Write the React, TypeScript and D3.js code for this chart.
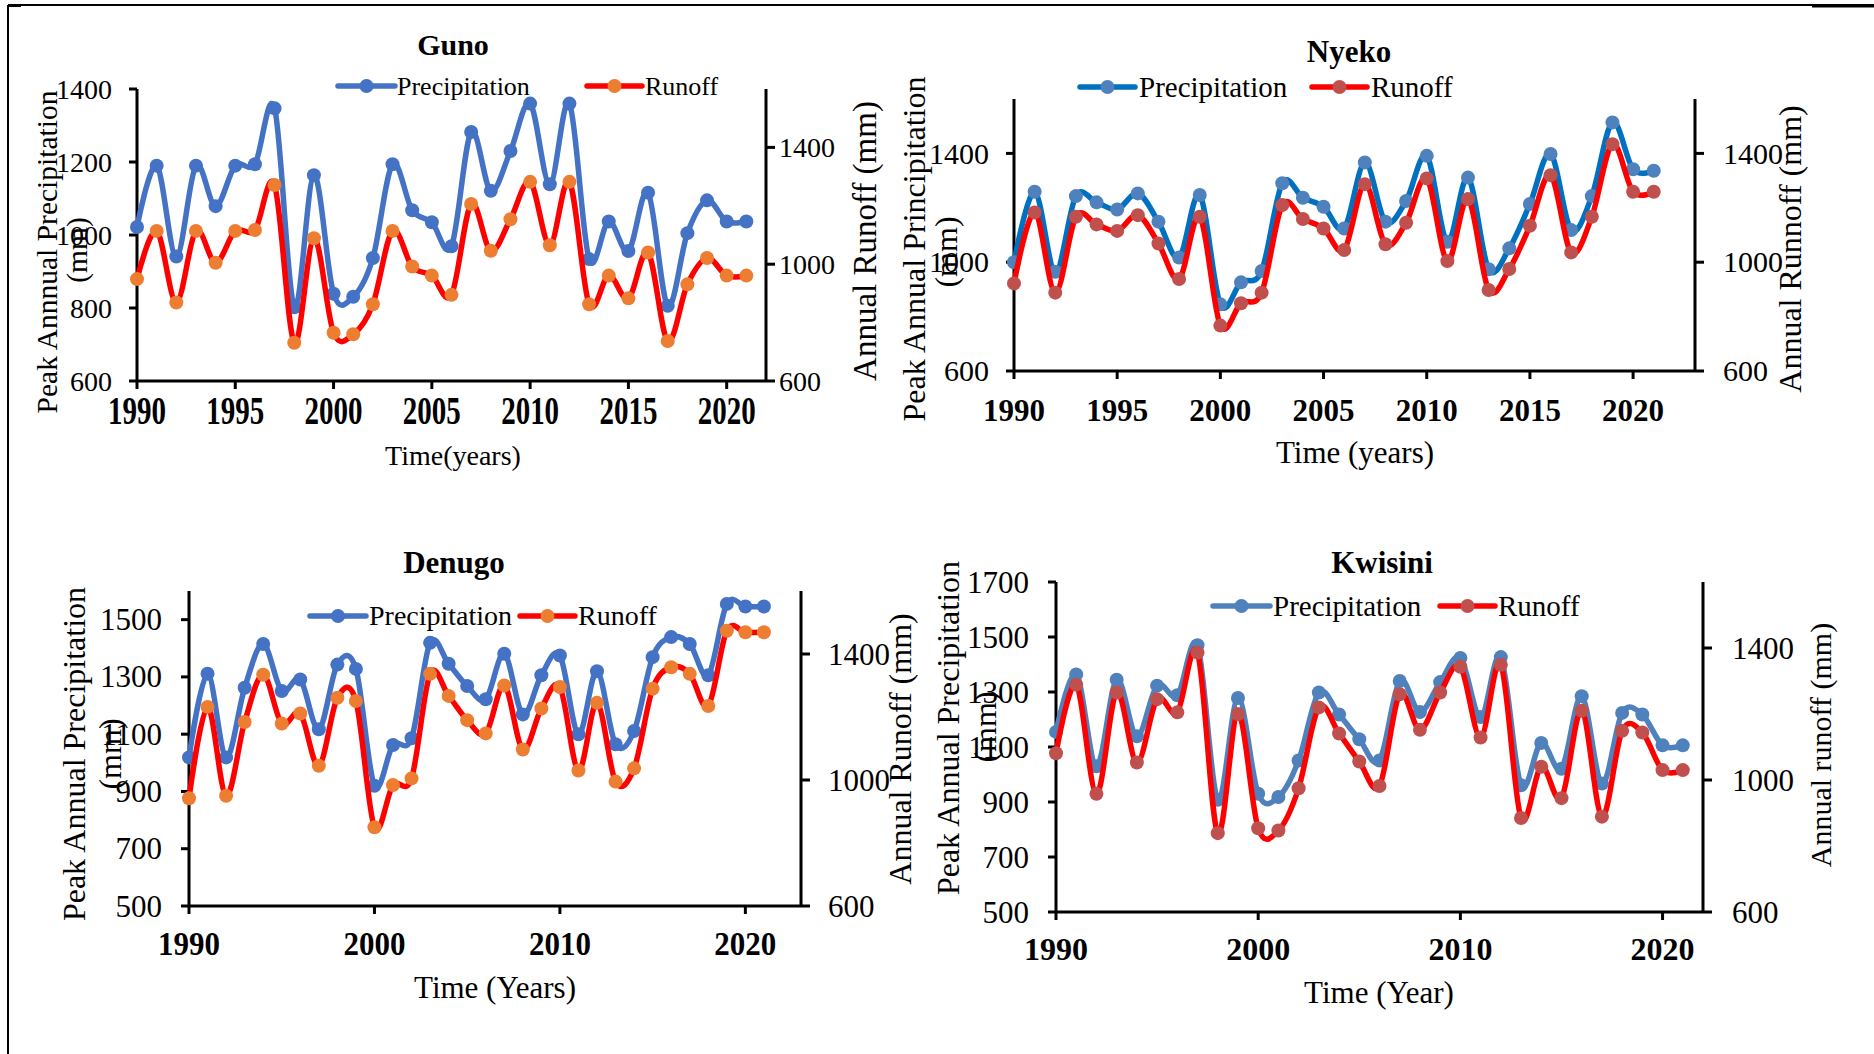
import React from 'react';
import * as d3 from 'd3';

const years = [1990, 1991, 1992, 1993, 1994, 1995, 1996, 1997, 1998, 1999, 2000, 2001, 2002, 2003, 2004, 2005, 2006, 2007, 2008, 2009, 2010, 2011, 2012, 2013, 2014, 2015, 2016, 2017, 2018, 2019, 2020, 2021];

const gunoPrecip = [1022, 1190, 941, 1190, 1079, 1190, 1194, 1347, 802, 1164, 839, 831, 937, 1194, 1068, 1035, 969, 1282, 1121, 1230, 1360, 1139, 1360, 934, 1037, 956, 1116, 806, 1005, 1095, 1037, 1037];
const gunoRunoff = [949, 1114, 869, 1114, 1005, 1114, 1117, 1271, 731, 1089, 765, 760, 863, 1114, 992, 961, 895, 1206, 1046, 1154, 1282, 1065, 1282, 863, 961, 883, 1040, 737, 931, 1021, 961, 961];

const nyekoPrecip = [1000, 1259, 965, 1243, 1220, 1194, 1253, 1149, 1017, 1247, 845, 926, 968, 1290, 1237, 1204, 1124, 1367, 1149, 1225, 1391, 1075, 1311, 974, 1051, 1214, 1398, 1118, 1243, 1514, 1342, 1336];
const nyekoRunoff = [922, 1183, 888, 1167, 1139, 1115, 1173, 1069, 938, 1167, 767, 849, 888, 1210, 1159, 1124, 1045, 1287, 1066, 1145, 1308, 1004, 1232, 898, 975, 1134, 1320, 1036, 1167, 1434, 1259, 1259];

const denugoPrecip = [1019, 1311, 1019, 1262, 1415, 1251, 1291, 1117, 1343, 1328, 920, 1062, 1086, 1419, 1346, 1268, 1222, 1381, 1169, 1306, 1375, 1100, 1320, 1065, 1111, 1369, 1439, 1415, 1306, 1555, 1546, 1546];
const denugoRunoff = [942, 1232, 950, 1184, 1334, 1179, 1211, 1045, 1261, 1251, 850, 984, 1005, 1337, 1267, 1190, 1148, 1300, 1097, 1227, 1295, 1030, 1245, 995, 1037, 1290, 1358, 1337, 1235, 1474, 1469, 1469];

const kwisiniPrecip = [1155, 1364, 1030, 1345, 1139, 1323, 1288, 1470, 908, 1278, 930, 918, 1051, 1298, 1218, 1128, 1051, 1340, 1227, 1336, 1424, 1209, 1427, 961, 1115, 1021, 1285, 967, 1224, 1218, 1106, 1106];
const kwisiniRunoff = [1081, 1289, 958, 1265, 1053, 1245, 1205, 1386, 839, 1200, 854, 847, 975, 1220, 1141, 1056, 982, 1260, 1152, 1265, 1343, 1129, 1349, 885, 1040, 945, 1210, 889, 1149, 1144, 1030, 1030];

const xTicks5 = [1990, 1995, 2000, 2005, 2010, 2015, 2020];
const xTicks10 = [1990, 2000, 2010, 2020];
const gunoLeftTicks = [600, 800, 1000, 1200, 1400];
const nyekoLeftTicks = [600, 1000, 1400];
const denugoLeftTicks = [500, 700, 900, 1100, 1300, 1500];
const kwisiniLeftTicks = [500, 700, 900, 1100, 1300, 1500, 1700];
const rightTicks = [600, 1000, 1400];

const FONT = '"Liberation Serif", "Times New Roman", serif';

type Cfg = {
  title: string; precip: number[]; runoff: number[];
  left: number; right: number; top: number; bottom: number;
  xDomain: [number, number]; xTicks: number[];
  yL: [number, number]; yLTicks: number[]; yR: [number, number]; yRTicks: number[];
  tickFont: number; leftGap: number; rightGap: number;
  yearFont: number; yearBase: number; yearScale: number;
  titleX: number; titleY: number; titleFont: number;
  legY: number; legFont: number; leg: { x1: number; x2: number; tx: number }[];
  yMain: string; yMainX: number; yMainY: number; yMmX: number; yMmY: number; yFont: number;
  xLabel: string; xLabelX: number; xLabelY: number; xLabelFont: number;
  rLabel: string; rLabelX: number; rLabelY: number; rLabelFont: number;
  pLine: string; pMark: string; rLine: string; rMark: string;
};

const panels: Cfg[] = [
  {
    title: 'Guno', precip: gunoPrecip, runoff: gunoRunoff,
    left: 137, right: 766, top: 89, bottom: 381,
    xDomain: [1990, 2022], xTicks: xTicks5,
    yL: [600, 1400], yLTicks: gunoLeftTicks, yR: [600, 1600], yRTicks: rightTicks,
    tickFont: 28, leftGap: 25, rightGap: 13,
    yearFont: 29, yearBase: 424, yearScale: 1.35,
    titleX: 453, titleY: 55, titleFont: 30,
    legY: 86, legFont: 26, leg: [{ x1: 338, x2: 395, tx: 397 }, { x1: 587, x2: 642, tx: 645 }],
    yMain: 'Peak Annnual Precipitation', yMainX: 57, yMainY: 252, yMmX: 87, yMmY: 250, yFont: 29.5,
    xLabel: 'Time(years)', xLabelX: 453, xLabelY: 465, xLabelFont: 28,
    rLabel: 'Annual Runoff (mm)', rLabelX: 876, rLabelY: 241, rLabelFont: 33,
    pLine: '#4472C4', pMark: '#4472C4', rLine: '#FF0000', rMark: '#ED7D31',
  },
  {
    title: 'Nyeko', precip: nyekoPrecip, runoff: nyekoRunoff,
    left: 1014, right: 1695, top: 99, bottom: 371,
    xDomain: [1990, 2023], xTicks: xTicks5,
    yL: [600, 1600], yLTicks: nyekoLeftTicks, yR: [600, 1600], yRTicks: rightTicks,
    tickFont: 30, leftGap: 25, rightGap: 28,
    yearFont: 31, yearBase: 421, yearScale: 1,
    titleX: 1349, titleY: 62, titleFont: 31,
    legY: 87, legFont: 29, leg: [{ x1: 1080, x2: 1135, tx: 1139 }, { x1: 1312, x2: 1367, tx: 1371 }],
    yMain: 'Peak Annual Principitation', yMainX: 925, yMainY: 249, yMmX: 957, yMmY: 252, yFont: 32,
    xLabel: 'Time (years)', xLabelX: 1355, xLabelY: 463, xLabelFont: 31,
    rLabel: 'Annual Runnoff (mm)', rLabelX: 1801, rLabelY: 249, rLabelFont: 32,
    pLine: '#0070C0', pMark: '#4F81BD', rLine: '#FF0000', rMark: '#C0504D',
  },
  {
    title: 'Denugo', precip: denugoPrecip, runoff: denugoRunoff,
    left: 189, right: 801, top: 591, bottom: 906,
    xDomain: [1990, 2023], xTicks: xTicks10,
    yL: [500, 1600], yLTicks: denugoLeftTicks, yR: [600, 1600], yRTicks: rightTicks,
    tickFont: 31, leftGap: 27, rightGap: 27,
    yearFont: 31, yearBase: 955, yearScale: 1.1,
    titleX: 454, titleY: 573, titleFont: 31,
    legY: 616, legFont: 28, leg: [{ x1: 310, x2: 366, tx: 369 }, { x1: 520, x2: 575, tx: 578 }],
    yMain: 'Peak Annual Precipitation', yMainX: 85, yMainY: 754, yMmX: 121, yMmY: 754, yFont: 32,
    xLabel: 'Time (Years)', xLabelX: 495, xLabelY: 998, xLabelFont: 31,
    rLabel: 'Annual Runoff (mm)', rLabelX: 911, rLabelY: 749, rLabelFont: 32,
    pLine: '#4472C4', pMark: '#4472C4', rLine: '#FF0000', rMark: '#ED7D31',
  },
  {
    title: 'Kwisini', precip: kwisiniPrecip, runoff: kwisiniRunoff,
    left: 1056, right: 1703, top: 582, bottom: 912,
    xDomain: [1990, 2022], xTicks: xTicks10,
    yL: [500, 1700], yLTicks: kwisiniLeftTicks, yR: [600, 1600], yRTicks: rightTicks,
    tickFont: 31, leftGap: 27, rightGap: 29,
    yearFont: 32, yearBase: 960, yearScale: 1,
    titleX: 1382, titleY: 573, titleFont: 31,
    legY: 606, legFont: 29, leg: [{ x1: 1213, x2: 1270, tx: 1273 }, { x1: 1440, x2: 1495, tx: 1498 }],
    yMain: 'Peak Annual Precipitation', yMainX: 959, yMainY: 728, yMmX: 996, yMmY: 727, yFont: 32,
    xLabel: 'Time (Year)', xLabelX: 1379, xLabelY: 1003, xLabelFont: 31,
    rLabel: 'Annual runoff (mm)', rLabelX: 1831, rLabelY: 745, rLabelFont: 30,
    pLine: '#4F81BD', pMark: '#4F81BD', rLine: '#FF0000', rMark: '#C0504D',
  },
];

const LW = 5.5;
const MR = 7;

function Panel({ c }: { c: Cfg }) {
  const x = d3.scaleLinear().domain(c.xDomain).range([c.left, c.right]);
  const yL = d3.scaleLinear().domain(c.yL).range([c.bottom, c.top]);
  const yR = d3.scaleLinear().domain(c.yR).range([c.bottom, c.top]);
  const mk = (ys: d3.ScaleLinear<number, number>) =>
    d3.line<number>().x((_, i) => x(years[i])).y((d) => ys(d)).curve(d3.curveCardinal.tension(0));
  const pPath = mk(yL)(c.precip) || '';
  const rPath = mk(yR)(c.runoff) || '';
  const legendItems = [
    { name: 'Precipitation', line: c.pLine, mark: c.pMark },
    { name: 'Runoff', line: c.rLine, mark: c.rMark },
  ];
  return (
    <g fontFamily={FONT}>
      <text x={c.titleX} y={c.titleY} fontSize={c.titleFont} fontWeight="bold" textAnchor="middle">{c.title}</text>
      {legendItems.map((it, i) => (
        <g key={it.name}>
          <line x1={c.leg[i].x1} x2={c.leg[i].x2} y1={c.legY} y2={c.legY} stroke={it.line} strokeWidth={LW} strokeLinecap="round" />
          <circle cx={(c.leg[i].x1 + c.leg[i].x2) / 2} cy={c.legY} r={MR} fill={it.mark} />
          <text x={c.leg[i].tx} y={c.legY} dy="0.33em" fontSize={c.legFont}>{it.name}</text>
        </g>
      ))}
      <g stroke="#000" strokeWidth={3}>
        <line x1={c.left} x2={c.left} y1={c.top} y2={c.bottom} />
        <line x1={c.right} x2={c.right} y1={c.top} y2={c.bottom} />
        <line x1={c.left} x2={c.right} y1={c.bottom} y2={c.bottom} />
        {c.yLTicks.map((t) => <line key={'l' + t} x1={c.left - 8} x2={c.left} y1={yL(t)} y2={yL(t)} />)}
        {c.yRTicks.map((t) => <line key={'r' + t} x1={c.right} x2={c.right + 9} y1={yR(t)} y2={yR(t)} />)}
        {c.xTicks.map((t) => <line key={'x' + t} x1={x(t)} x2={x(t)} y1={c.bottom} y2={c.bottom + 8} />)}
      </g>
      {c.yLTicks.map((t) => (
        <text key={'lt' + t} x={c.left - c.leftGap} y={yL(t)} dy="0.34em" textAnchor="end" fontSize={c.tickFont}>{t}</text>
      ))}
      {c.yRTicks.map((t) => (
        <text key={'rt' + t} x={c.right + c.rightGap} y={yR(t)} dy="0.34em" textAnchor="start" fontSize={c.tickFont}>{t}</text>
      ))}
      {c.xTicks.map((t) => (
        <text key={'xt' + t} transform={`translate(${x(t)},${c.yearBase}) scale(1,${c.yearScale})`} textAnchor="middle" fontSize={c.yearFont} fontWeight="bold">{t}</text>
      ))}
      <path d={pPath} fill="none" stroke={c.pLine} strokeWidth={LW} strokeLinejoin="round" />
      {c.precip.map((v, i) => <circle key={'pm' + i} cx={x(years[i])} cy={yL(v)} r={MR} fill={c.pMark} />)}
      <path d={rPath} fill="none" stroke={c.rLine} strokeWidth={LW} strokeLinejoin="round" />
      {c.runoff.map((v, i) => <circle key={'rm' + i} cx={x(years[i])} cy={yR(v)} r={MR} fill={c.rMark} />)}
      <text transform={`translate(${c.yMainX},${c.yMainY}) rotate(-90)`} textAnchor="middle" fontSize={c.yFont}>{c.yMain}</text>
      <text transform={`translate(${c.yMmX},${c.yMmY}) rotate(-90)`} textAnchor="middle" fontSize={c.yFont}>(mm)</text>
      <text x={c.xLabelX} y={c.xLabelY} textAnchor="middle" fontSize={c.xLabelFont}>{c.xLabel}</text>
      <text transform={`translate(${c.rLabelX},${c.rLabelY}) rotate(-90)`} textAnchor="middle" fontSize={c.rLabelFont}>{c.rLabel}</text>
    </g>
  );
}

export default function App() {
  return (
    <svg width={1874} height={1054} style={{ position: 'absolute', left: 0, top: 0, background: '#fff' }}>
      <rect x={0} y={0} width={1874} height={1054} fill="#fff" />
      <line x1={8} x2={8} y1={5} y2={1054} stroke="#000" strokeWidth={2} />
      <line x1={8} x2={1874} y1={5} y2={5} stroke="#000" strokeWidth={2} />
      <line x1={8} x2={21} y1={5.5} y2={5.5} stroke="#000" strokeWidth={3} />
      <line x1={1812} x2={1874} y1={6} y2={6} stroke="#000" strokeWidth={3} />
      {panels.map((p) => <Panel key={p.title} c={p} />)}
    </svg>
  );
}
